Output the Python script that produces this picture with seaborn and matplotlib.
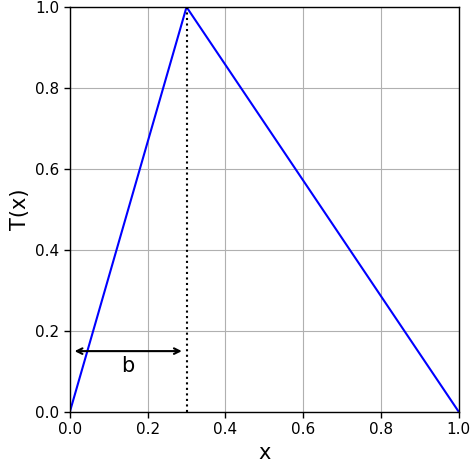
import numpy as np
import pandas as pd
import matplotlib
matplotlib.use("Agg")
import matplotlib.pyplot as plt
import seaborn as sns

# tent map with peak at b
b = 0.3
x_vals = [0.0, b, 1.0]
t_vals = [0.0, 1.0, 0.0]
ticks = [0.0, 0.2, 0.4, 0.6, 0.8, 1.0]

sns.set_style("white")
plt.rcParams['font.family'] = ['DejaVu Sans']
plt.rcParams['text.color'] = 'black'
plt.rcParams['axes.labelcolor'] = 'black'
plt.rcParams['xtick.color'] = 'black'
plt.rcParams['ytick.color'] = 'black'

df = pd.DataFrame({"x": x_vals, "T": t_vals})

fig = plt.figure(figsize=(4.72, 4.68), dpi=100)
ax = fig.add_axes([0.148, 0.12, 0.824, 0.865])

sns.lineplot(data=df, x="x", y="T", color="blue", linewidth=1.5, ax=ax)

# dotted line at the peak
ax.plot([b, b], [0, 1], color="black", linestyle=":", linewidth=1.5)

# arrow showing b
ax.annotate("", xy=(0.005, 0.15), xytext=(b - 0.005, 0.15),
            arrowprops=dict(arrowstyle="<->", color="black", lw=1.5))
ax.text(b / 2, 0.113, "b", fontsize=15, ha="center", va="center")

ax.set_xlim(0, 1)
ax.set_ylim(0, 1)
ax.set_xticks(ticks)
ax.set_yticks(ticks)
ax.tick_params(axis="both", labelsize=11, length=4, width=1, direction="out",
               bottom=True, left=True, colors="black")
ax.grid(True, color="#b0b0b0", linewidth=0.8)
ax.set_axisbelow(True)
for s in ax.spines.values():
    s.set_color("black")
    s.set_linewidth(1.0)

ax.set_xlabel("x", fontsize=15)
ax.set_ylabel("T(x)", fontsize=15)

fig.savefig("out.png", dpi=100)
